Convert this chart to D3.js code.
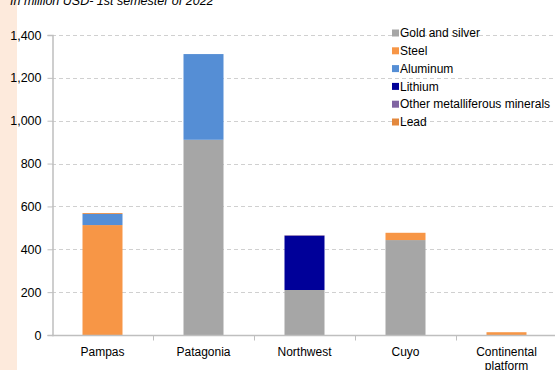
<!DOCTYPE html>
<html>
<head>
<meta charset="utf-8">
<script src="https://cdn.jsdelivr.net/npm/d3@7/dist/d3.min.js"></script>
<style>
  html, body { margin: 0; padding: 0; background: #fff; }
  svg { display: block; font-family: "Liberation Sans", Arial, sans-serif; }
</style>
</head>
<body>
<svg id="chart" width="555" height="370"></svg>
<script>
// Mining exports by region, million USD, 1st semester 2022
const regions = ["Pampas", "Patagonia", "Northwest", "Cuyo", "Continental platform"];
const seriesNames = ["Gold and silver", "Steel", "Aluminum", "Lithium", "Other metalliferous minerals", "Lead"];
const seriesColors = ["#a6a6a6", "#f79646", "#558ed5", "#000099", "#8064a2", "#e3883d"];
const goldSilver = [0, 911, 210, 443, 0];
const steel      = [513, 0, 0, 34, 13];
const aluminum   = [52, 400, 0, 0, 0];
const lithium    = [0, 0, 253, 0, 0];
const otherMet   = [0, 0, 3, 0, 0];
const lead       = [4, 0, 0, 0, 0];
const yTicks = [0, 200, 400, 600, 800, 1000, 1200, 1400];

const seriesValues = [goldSilver, steel, aluminum, lithium, otherMet, lead];
const rows = regions.map((r, i) => {
  const o = { region: r };
  seriesNames.forEach((s, j) => o[s] = seriesValues[j][i]);
  return o;
});

const FONT = "'Liberation Sans', Arial, sans-serif";
const svg = d3.select("#chart");
const W = 555, H = 370;
const m = { left: 52, right: 0, top: 35, bottom: 35 };

// peach strip on the left edge
svg.append("rect").attr("x", 0).attr("y", 0).attr("width", 17).attr("height", H).attr("fill", "#fdeadc");

// subtitle
svg.append("text").attr("x", 10).attr("y", 5)
  .attr("font-size", 12.5).attr("font-style", "italic").attr("fill", "#000")
  .attr("font-family", FONT)
  .text("In million USD- 1st semester of 2022");

const x = d3.scaleBand().domain(regions).range([m.left, m.left + 505]).paddingInner(0).paddingOuter(0);
const y = d3.scaleLinear().domain([0, 1400]).range([H - m.bottom, m.top]);

// gridlines
svg.append("g").selectAll("line").data(yTicks.slice(1)).join("line")
  .attr("x1", m.left).attr("x2", W)
  .attr("y1", d => Math.round(y(d)) + 0.5).attr("y2", d => Math.round(y(d)) + 0.5)
  .attr("stroke", "#d0d0d0").attr("stroke-dasharray", "4,3");

// stacked bars
const stack = d3.stack().keys(seriesNames)(rows);
const bw = 40;
svg.append("g").selectAll("g").data(stack).join("g")
  .attr("fill", (d, i) => seriesColors[i])
  .selectAll("rect").data(d => d.filter(p => p[1] - p[0] > 0)).join("rect")
  .attr("x", d => x(d.data.region) + x.bandwidth() / 2 - bw / 2)
  .attr("width", bw)
  .attr("y", d => y(d[1]))
  .attr("height", d => y(d[0]) - y(d[1]));

// y axis
const yAxis = d3.axisLeft(y).tickValues(yTicks).tickFormat(d3.format(",")).tickSize(5).tickPadding(6);
const gy = svg.append("g").attr("transform", `translate(${m.left + 0.5},0)`).call(yAxis);
gy.select(".domain").attr("stroke", "#bfbfbf").attr("stroke-width", 1.5);
gy.selectAll(".tick line").attr("stroke", "#bfbfbf");
gy.selectAll(".tick text").attr("font-size", 12.5).attr("fill", "#000").attr("font-family", FONT);

// x axis
const xAxis = d3.axisBottom(x).tickSize(0).tickPadding(12);
const gx = svg.append("g").attr("transform", `translate(0,${H - m.bottom + 0.5})`).call(xAxis);
gx.select(".domain").attr("stroke", "#bfbfbf").attr("stroke-width", 1.5).attr("d", `M${m.left},0H${W}`);
gx.selectAll(".tick text").attr("font-size", 12).attr("fill", "#000").attr("font-family", FONT)
  .each(function(d) {
    const t = d3.select(this);
    const words = d.split(" ");
    if (words.length > 1) {
      t.text(null);
      words.forEach((w, i) => t.append("tspan").attr("x", 0).attr("dy", i === 0 ? "0.71em" : "1.15em").text(w));
    }
  });
// category separators
gx.selectAll(".sep").data(regions.slice(1)).join("line")
  .attr("x1", d => x(d) + 0.5).attr("x2", d => x(d) + 0.5)
  .attr("y1", 0).attr("y2", 5).attr("stroke", "#bfbfbf");

// legend
const lg = svg.append("g").attr("transform", "translate(392,33)");
const items = lg.selectAll("g").data(seriesNames).join("g")
  .attr("transform", (d, i) => `translate(0,${i * 17.8})`);
items.append("rect").attr("x", 0).attr("y", -3.5).attr("width", 7).attr("height", 7)
  .attr("fill", (d, i) => seriesColors[i]);
items.append("text").attr("x", 8).attr("y", 0).attr("dy", "0.35em")
  .attr("font-size", 12).attr("fill", "#000").attr("font-family", FONT).text(d => d);
</script>
</body>
</html>
